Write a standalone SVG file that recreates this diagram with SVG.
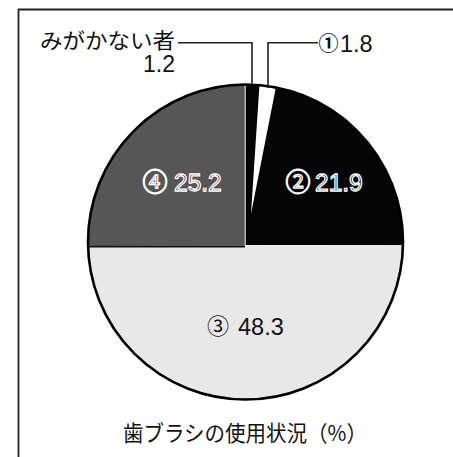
<svg xmlns="http://www.w3.org/2000/svg" width="453" height="457" viewBox="0 0 453 457">
<style>
.jp{font-family:"Noto Sans CJK JP","Noto Sans",sans-serif;fill:#111}
.num{font-family:"Liberation Sans",Arial,sans-serif;fill:#111}
.lead{fill:none;stroke:#222;stroke-width:1.6}
.out{stroke:#fff;stroke-width:1.3;fill:#1a1a1a}
.out2{stroke:#fff;stroke-width:1.3;fill:#000}
</style>
<defs>
<clipPath id="pie"><circle cx="245.5" cy="242" r="157.5"/></clipPath>
</defs>
<rect width="453" height="457" fill="#fff"/>
<g id="frame">
<path d="M18.5 457 V9.5 H453" fill="none" stroke="#222" stroke-width="1.8"/>
</g>
<g id="pie-chart" clip-path="url(#pie)">
<g id="slice4"><polygon points="0,246 0,0 245,0 245,246" fill="#565656"/></g>
<g id="slice2"><polygon points="245,0 453,0 453,245 245,245" fill="#050505"/></g>
<g id="slice1"><polygon points="265,0 293,0 251,214" fill="#fff"/></g>
<g id="slice3"><polygon points="0,246 453,245 453,457 0,457" fill="#e8e8e8"/></g>
<line x1="245.2" y1="0" x2="245.2" y2="245" stroke="#fff" stroke-width="1"/>
<line x1="80" y1="246.5" x2="245" y2="246.5" stroke="#111" stroke-width="2"/>
</g>
<circle cx="245.5" cy="242" r="157.5" fill="none" stroke="#000" stroke-width="2.6"/>
<g id="connectors">
<path class="lead" d="M178 42.7 H252 V85"/>
<path class="lead" d="M318 42.7 H268 V88"/>
</g>
<g id="label-none">
<text class="jp" x="40" y="47.5" font-size="21" textLength="135" lengthAdjust="spacingAndGlyphs">みがかない者</text>
<text class="num" x="175" y="72" font-size="23" text-anchor="end">1.2</text>
</g>
<g id="label-1">
<text class="jp" x="318.5" y="50.5" font-size="20" font-weight="bold">①</text>
<text class="num" x="340" y="51.5" font-size="23.5">1.8</text>
</g>
<g id="label-4">
<text class="jp out" x="142.5" y="190.5" font-size="25">④</text>
<text class="num out" x="174" y="191" font-size="24.5">25.2</text>
</g>
<g id="label-2">
<text class="jp out2" x="285.5" y="190.5" font-size="25">②</text>
<text class="num out2" x="315" y="191" font-size="24.5">21.9</text>
</g>
<g id="label-3">
<text class="jp" x="207" y="334" font-size="22">③</text>
<text class="num" x="238" y="334.5" font-size="23.5">48.3</text>
</g>
<g id="title">
<text class="jp" x="123" y="441" font-size="22" textLength="244" lengthAdjust="spacingAndGlyphs">歯ブラシの使用状況（%）</text>
</g>
</svg>
